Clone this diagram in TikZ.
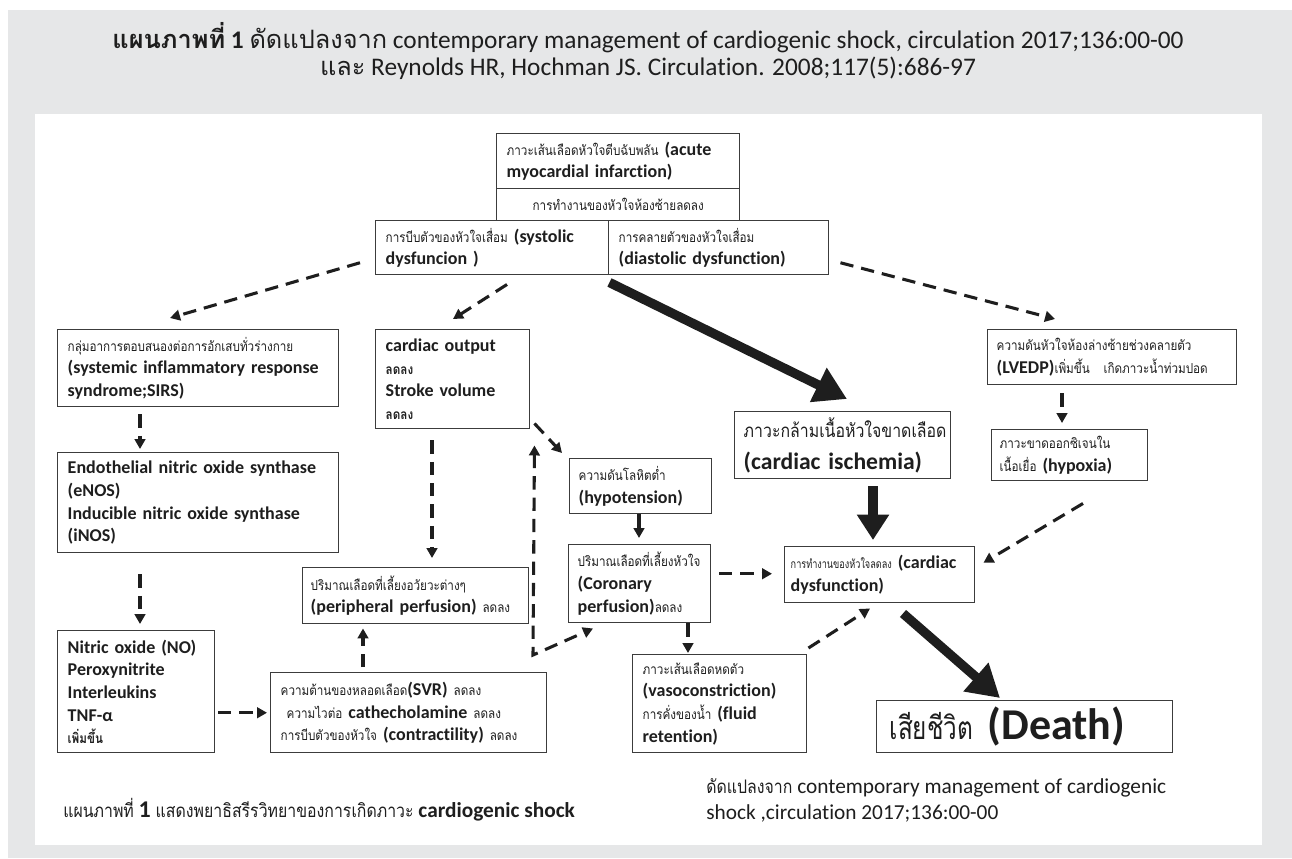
\documentclass[tikz,border=0pt]{standalone}
\usepackage{fontspec}
\setmainfont{Carlito}[Ligatures=NoCommon]
\newfontfamily\thf[Script=Thai]{Loma}
\newfontfamily\thn[Script=Thai,FakeStretch=0.85]{Loma}
\newfontfamily\thc[Script=Thai,FakeStretch=0.76]{Loma}
\usetikzlibrary{arrows.meta,calc}
\newdimen\pxu \pxu=0.75pt
\hyphenpenalty=10000
\exhyphenpenalty=10000
\definecolor{pagegray}{HTML}{E6E7E8}
\definecolor{ink}{HTML}{1E1E1E}
\definecolor{edge}{HTML}{3C3C3C}
\newcommand\tsm{\thn\fontsize{10.3pt}{12pt}\selectfont}
\newcommand\lbf{\bfseries\fontsize{13.5pt}{17pt}\selectfont}
\tikzset{
 box/.style={draw=edge, line width=1.1pt, fill=white, anchor=north west, inner xsep=10\pxu, inner ysep=2\pxu, align=left, text=ink, font=\fontsize{13.5pt}{17pt}\selectfont},
 darr/.style={draw=ink, line width=2.3pt, dash pattern=on 10pt off 6pt, -{Triangle[length=7.5pt,width=8pt]}},
 ddarr/.style={draw=ink, line width=2.3pt, dash pattern=on 10pt off 6pt, {Triangle[length=7.5pt,width=8pt]}-{Triangle[length=7.5pt,width=8pt]}},
 tarr/.style={draw=ink, line width=7pt, -{Triangle[length=24pt,width=27pt]}},
 plain/.style={text=ink, inner sep=0pt},
}
\begin{document}
\begin{tikzpicture}[x=0.75pt,y=-0.75pt]
\useasboundingbox (0,0) rectangle (1292,858);
\fill[pagegray] (8,10) rectangle (1292,858);
\fill[white] (35,114) rectangle (1262,845);

% title
\node[plain, font=\fontsize{19pt}{24pt}\selectfont] (t1) at (648,38) {{\thf\bfseries แผนภาพที่} {\bfseries 1} {\thf ดัดแปลงจาก} contemporary management of cardiogenic shock, circulation 2017;136:00-00};
\node[plain, font=\fontsize{19pt}{24pt}\selectfont] (t2) at (648,68) {{\thf และ} Reynolds HR, Hochman JS. Circulation. 2008;117(5):686-97};

% boxes
\node[box, minimum width=243\pxu, minimum height=55\pxu, text width=223\pxu] (ami) at (496,133) {{\tsm ภาวะเส้นเลือดหัวใจตีบฉับพลัน} {\lbf (acute}\\{\lbf myocardial infarction)}};
\node[box, minimum width=243\pxu, minimum height=32\pxu, text width=223\pxu, align=center] (lvf) at (496,188) {\tsm การทำงานของหัวใจห้องซ้ายลดลง};
\node[box, minimum width=233\pxu, minimum height=54\pxu, text width=213\pxu] (sys) at (375,220) {{\tsm การบีบตัวของหัวใจเสื่อม} {\lbf (systolic}\\{\lbf dysfuncion )}};
\node[box, minimum width=220\pxu, minimum height=54\pxu, text width=200\pxu] (dia) at (608,220) {{\tsm การคลายตัวของหัวใจเสื่อม}\\{\lbf (diastolic dysfunction)}};

\node[box, minimum width=281\pxu, minimum height=77\pxu, text width=261\pxu] (sirs) at (57,329) {{\tsm กลุ่มอาการตอบสนองต่อการอักเสบทั่วร่างกาย}\\{\lbf (systemic inflammatory response}\\{\lbf syndrome;SIRS)}};
\node[box, minimum width=281\pxu, minimum height=100\pxu, text width=261\pxu] (enos) at (57,452) {\lbf Endothelial nitric oxide synthase\\(eNOS)\\Inducible nitric oxide synthase\\(iNOS)};
\node[box, minimum width=157\pxu, minimum height=122\pxu, text width=137\pxu] (no) at (57,630) {\lbf Nitric oxide (NO)\\Peroxynitrite\\Interleukins\\TNF-α\\{\tsm เพิ่มขึ้น}};

\node[box, minimum width=154\pxu, minimum height=99\pxu, text width=134\pxu] (co) at (375,329) {\lbf cardiac output\\{\tsm ลดลง}\\Stroke volume\\{\tsm ลดลง}};
\node[box, minimum width=226\pxu, minimum height=56\pxu, text width=210\pxu, inner xsep=8\pxu] (per) at (302,567) {{\tsm ปริมาณเลือดที่เลี้ยงอวัยวะต่างๆ}\\\mbox{{\lbf (peripheral perfusion)} {\tsm ลดลง}}};
\node[box, minimum width=276\pxu, minimum height=80\pxu, text width=256\pxu] (svr) at (270,672) {{\tsm ความต้านของหลอดเลือด}{\lbf (SVR)} {\tsm ลดลง}\\{\tsm\ ความไวต่อ} {\lbf cathecholamine} {\tsm ลดลง}\\{\tsm การบีบตัวของหัวใจ} {\lbf (contractility)} {\tsm ลดลง}};

\node[box, minimum width=142\pxu, minimum height=55\pxu, text width=124\pxu, inner xsep=9\pxu] (hyp) at (569,458) {{\tsm ความดันโลหิตต่ำ}\\{\lbf (hypotension)}};
\node[box, minimum width=142\pxu, minimum height=78\pxu, text width=124\pxu, inner xsep=9\pxu] (cor) at (568,544) {{\tsm ปริมาณเลือดที่เลี้ยงหัวใจ}\\{\lbf (Coronary}\\{\lbf perfusion)}{\tsm ลดลง}};
\node[box, minimum width=174\pxu, minimum height=98\pxu, text width=154\pxu] (vaso) at (632,654) {{\tsm ภาวะเส้นเลือดหดตัว}\\{\lbf (vasoconstriction)}\\{\tsm การคั่งของน้ำ} {\lbf (fluid}\\{\lbf retention)}};

\node[box, minimum width=216\pxu, minimum height=67\pxu, text width=198\pxu, inner xsep=9\pxu, font=\fontsize{17.7pt}{24pt}\selectfont] (isch) at (734,411) {{\thn\fontsize{14pt}{20pt}\selectfont ภาวะกล้ามเนื้อหัวใจขาดเลือด}\\{\bfseries (cardiac ischemia)}};
\node[box, minimum width=190\pxu, minimum height=56\pxu, text width=178\pxu, inner xsep=6\pxu] (dys) at (784,546) {\mbox{{\thc\fontsize{9pt}{12pt}\selectfont การทำงานของหัวใจลดลง} {\lbf (cardiac}}\\{\lbf dysfunction)}};
\node[box, minimum width=249\pxu, minimum height=55\pxu, text width=231\pxu, inner xsep=9\pxu] (lv) at (987,329) {{\tsm ความดันหัวใจห้องล่างซ้ายช่วงคลายตัว}\\\mbox{{\lbf (LVEDP)}{\tsm เพิ่มขึ้น\quad เกิดภาวะน้ำท่วมปอด}}};
\node[box, minimum width=156\pxu, minimum height=51\pxu, text width=140\pxu, inner xsep=8\pxu] (hpx) at (991,429) {{\tsm ภาวะขาดออกซิเจนใน}\\{\tsm เนื้อเยื่อ} {\lbf (hypoxia)}};
\node[box, minimum width=296\pxu, minimum height=52\pxu, text width=270\pxu, inner xsep=13\pxu, font=\fontsize{33pt}{34pt}\selectfont] (death) at (876,700) {\mbox{{\thc\fontsize{24pt}{30pt}\selectfont เสียชีวิต} {\bfseries (Death)}}};

% footers
\node[plain, anchor=west, font=\fontsize{16pt}{20pt}\selectfont] (f1) at (63,810) {{\thn\fontsize{14pt}{18pt}\selectfont แผนภาพที่} {\bfseries\fontsize{18pt}{20pt}\selectfont 1} {\thn\fontsize{14pt}{18pt}\selectfont แสดงพยาธิสรีรวิทยาของการเกิดภาวะ} {\bfseries cardiogenic shock}};
\node[plain, anchor=north west, align=left, font=\fontsize{16pt}{20pt}\selectfont] (f2) at (706,778) {{\thn\fontsize{14pt}{18pt}\selectfont ดัดแปลงจาก} contemporary management of cardiogenic\\shock ,circulation 2017;136:00-00};

% connectors
\coordinate (lc) at (533,655);
\draw[darr] ($(sys.west)+(-15,15)$) -- ($(sirs.north west)+(113,-11)$);
\draw[darr] ($(sys.south west)+(132,9)$) -- ($(co.north west)+(78,-10)$);
\draw[tarr] ($(sys.south east)+(0,7)$) -- ($(isch.north west)+(113,-12)$);
\draw[darr] ($(dia.east)+(11,15)$) -- ($(lv.north west)+(68,-10)$);
\draw[darr] ($(sirs.south west)+(83,7)$) -- ($(enos.north west)+(83,-3)$);
\draw[darr] ($(enos.south west)+(83,21)$) -- ($(no.north west)+(83,-6)$);
\draw[darr] ($(svr.west)+(-52,0)$) -- ($(svr.west)+(-3,0)$);
\draw[darr] ($(svr.north west)+(93,-5)$) -- ($(per.south west)+(61,4)$);
\draw[darr] ($(co.south west)+(57,11)$) -- ($(per.north west)+(130,-9)$);
\draw[ddarr] ($(co.south east)+(4,16)$) -- (lc) -- ($(cor.south west)+(25,5)$);
\draw[darr] ($(co.south east)+(4,-6)$) -- ($(hyp.north west)+(-7,-5)$);
\draw[darr] ($(hyp.south west)+(70,0)$) -- ($(cor.north west)+(71,-6)$);
\draw[darr] ($(dys.west)+(-65,-1)$) -- ($(dys.west)+(-12,-1)$);
\draw[darr] ($(cor.south west)+(120,0)$) -- ($(vaso.north west)+(56,-1)$);
\draw[darr] ($(vaso.north east)+(1,-6)$) -- ($(dys.south west)+(86,5)$);
\draw[tarr, -{Triangle[length=19pt,width=23pt]}] ($(isch.south west)+(139,7)$) -- ($(dys.north west)+(89,-6)$);
\draw[darr] ($(lv.south west)+(75,8)$) -- ($(hpx.north west)+(71,-6)$);
\draw[darr] ($(hpx.south west)+(92,22)$) -- ($(dys.east)+(8,-12)$);
\draw[tarr] ($(dys.south west)+(119,10)$) -- ($(death.north west)+(124,-2)$);
\end{tikzpicture}
\end{document}
